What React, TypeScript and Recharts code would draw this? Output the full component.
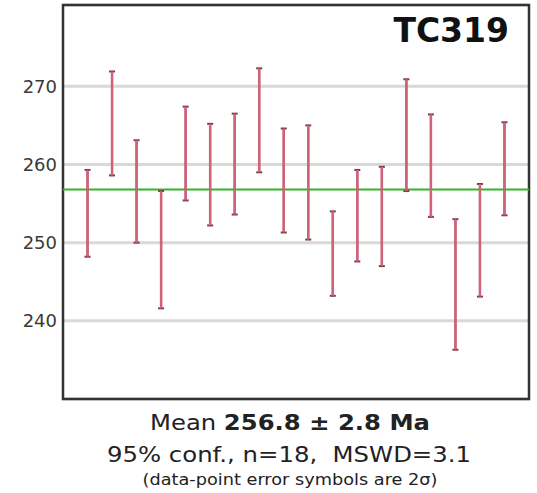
import React from 'react';
import { ComposedChart, Scatter, ErrorBar, XAxis, YAxis, CartesianGrid, ReferenceLine, ReferenceArea } from 'recharts';

const grains = [1, 2, 3, 4, 5, 6, 7, 8, 9, 10, 11, 12, 13, 14, 15, 16, 17, 18];
const lows = [248.2, 258.6, 250.0, 241.6, 255.4, 252.2, 253.6, 259.0, 251.3, 250.4, 243.2, 247.6, 247.0, 256.6, 253.3, 236.3, 243.1, 253.5];
const highs = [259.3, 271.9, 263.1, 256.6, 267.4, 265.2, 266.5, 272.3, 264.6, 265.0, 254.0, 259.3, 259.7, 270.9, 266.4, 253.0, 257.5, 265.4];
const yTicks = [240, 250, 260, 270];
const meanAge = 256.8;
const sampleName = 'TC319';

const data = grains.map((g, i) => {
  const mid = (lows[i] + highs[i]) / 2;
  return { x: g, mid, err: [mid - lows[i], highs[i] - mid] };
});

const FONT = '"DejaVu Sans", Verdana, sans-serif';

export default function App() {
  return (
    <div style={{ position: 'absolute', left: 0, top: 0, width: 537, height: 493, background: '#fff' }}>
      <ComposedChart width={537} height={493} data={data} margin={{ top: 5, right: 8, bottom: 94, left: 8 }}>
        <CartesianGrid horizontal vertical={false} stroke="#d9d9d9" strokeWidth={3} />
        <XAxis type="number" dataKey="x" domain={[0, 19]} hide />
        <YAxis
          type="number"
          domain={[230, 280.4]}
          ticks={yTicks}
          width={55}
          axisLine={false}
          tickLine={false}
          tickSize={4}
          tickMargin={2}
          tick={{ fontSize: 18, fill: '#3a3a3a', fontFamily: FONT }}
          allowDataOverflow
        />
        <ReferenceLine y={meanAge} stroke="#33b52a" strokeWidth={2} />
        <Scatter dataKey="mid" isAnimationActive={false} shape={() => <g />}>
          <ErrorBar dataKey="err" direction="y" width={3} stroke="#7e3a4a" strokeWidth={2} isAnimationActive={false} />
          <ErrorBar dataKey="err" direction="y" width={0} stroke="#d0627a" strokeWidth={2.5} isAnimationActive={false} />
        </Scatter>
        <ReferenceArea x1={0} x2={19} y1={230} y2={280.4} fill="none" stroke="#333" strokeWidth={2.5} ifOverflow="visible" />
      </ComposedChart>
      <svg width={537} height={493} style={{ position: 'absolute', left: 0, top: 0, pointerEvents: 'none' }}>
        <text x={509} y={42} textAnchor="end" fontFamily={FONT} fontWeight="bold" fontSize={33} fill="#111">{sampleName}</text>
        <text x={290} y={430} textAnchor="middle" fontFamily={FONT} fontSize={22} fill="#222" textLength={280} lengthAdjust="spacingAndGlyphs">
          Mean <tspan fontWeight="bold">256.8 ± 2.8 Ma</tspan>
        </text>
        <text x={289} y={462} textAnchor="middle" fontFamily={FONT} fontSize={22} fill="#222" textLength={364} lengthAdjust="spacingAndGlyphs" xmlSpace="preserve">
          95% conf., n=18,  MSWD=3.1
        </text>
        <text x={290} y={485} textAnchor="middle" fontFamily={FONT} fontSize={15} fill="#222" textLength={295} lengthAdjust="spacingAndGlyphs">
          (data-point error symbols are 2σ)
        </text>
      </svg>
    </div>
  );
}
